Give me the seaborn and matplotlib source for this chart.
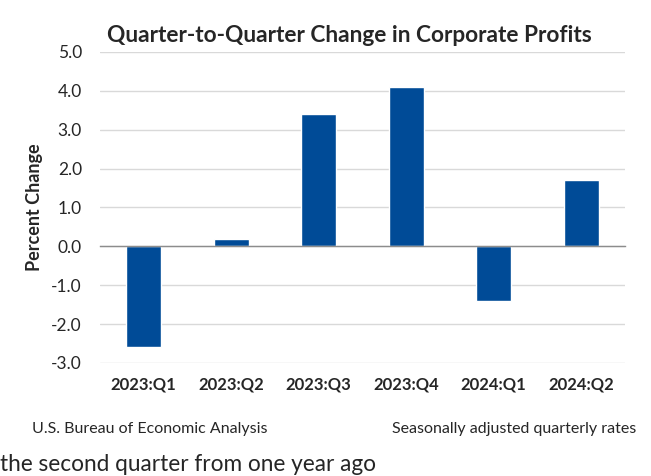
import matplotlib
matplotlib.use("Agg")
import matplotlib.pyplot as plt
import seaborn as sns
import pandas as pd

# data
quarters = ["2023:Q1", "2023:Q2", "2023:Q3", "2023:Q4", "2024:Q1", "2024:Q2"]
pct_change = [-2.6, 0.2, 3.4, 4.1, -1.4, 1.7]
y_ticks = [-3.0, -2.0, -1.0, 0.0, 1.0, 2.0, 3.0, 4.0, 5.0]

title = "Quarter-to-Quarter Change in Corporate Profits"
source_note = "U.S. Bureau of Economic Analysis"
rate_note = "Seasonally adjusted quarterly rates"
cut_text = "the second quarter from one year ago"

df = pd.DataFrame({"quarter": quarters, "change": pct_change})

sns.set_style("white")
plt.rcParams["font.family"] = ["Lato", "DejaVu Sans"]

fig = plt.figure(figsize=(6.51, 4.76), dpi=100)
ax = fig.add_axes([0.1536, 0.2374, 0.8064, 0.6534])

sns.barplot(data=df, x="quarter", y="change", color="#004B97",
            width=0.4, saturation=1, ax=ax)

ax.set_ylim(-3, 5)
ax.set_xlim(-0.5, len(quarters) - 0.5)
ax.set_yticks(y_ticks)
ax.set_yticklabels([f"{v:.1f}" for v in y_ticks], fontsize=12.5)
ax.yaxis.grid(True, color="#D9D9D9", linewidth=1)
ax.set_axisbelow(True)
ax.tick_params(axis="y", length=0, pad=13)

for s in ["left", "right", "top"]:
    ax.spines[s].set_visible(False)
# zero line with tick marks between categories
ax.spines["bottom"].set_position(("data", 0))
ax.spines["bottom"].set_color("#8C8C8C")
ax.spines["bottom"].set_linewidth(1)
ax.set_xticks([i + 0.5 for i in range(-1, len(quarters))], minor=True)
ax.set_xticks(range(len(quarters)))
ax.set_xticklabels([])
ax.tick_params(axis="x", which="major", length=0)
ax.tick_params(axis="x", which="minor", length=5, color="#8C8C8C", width=1,
               direction="out")
ax.set_xlabel("")
ax.set_ylabel("Percent Change", fontsize=13, fontweight="bold", labelpad=6)

# category labels at the bottom of the plot area
sec = ax.secondary_xaxis("bottom")
sec.set_xticks(range(len(quarters)))
sec.set_xticklabels(quarters, fontsize=12, fontweight="bold")
sec.tick_params(length=0, pad=10)
sec.spines["bottom"].set_visible(False)

fig.text(0.537, 0.926, title, ha="center", va="center",
         fontsize=16.3, fontweight="bold")
fig.text(0.049, 0.099, source_note, ha="left", va="center", fontsize=11.5)
fig.text(0.977, 0.099, rate_note, ha="right", va="center", fontsize=11.5)
fig.text(0.0, 0.003, cut_text, ha="left", va="bottom", fontsize=16.3)

fig.savefig("out.png", dpi=100)
